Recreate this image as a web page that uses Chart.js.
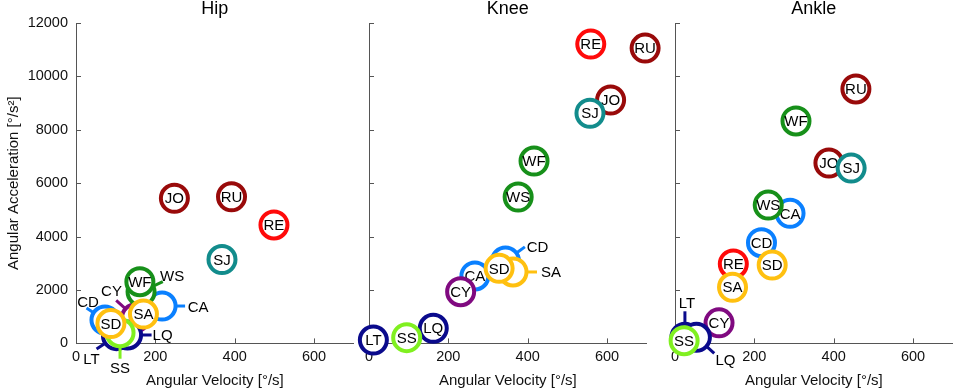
<!DOCTYPE html>
<html>
<head>
<meta charset="utf-8">
<script src="https://cdn.jsdelivr.net/npm/chart.js@4.4.0/dist/chart.umd.min.js"></script>
<style>
  html, body { margin: 0; padding: 0; background: #fff; }
  #wrap { position: relative; width: 957px; height: 391px; overflow: hidden; }
  #wrap canvas { position: absolute; top: 0; }
</style>
</head>
<body>
<div id="wrap">
  <canvas id="hip" width="360" height="391" style="left:0px"></canvas>
  <canvas id="knee" width="330" height="391" style="left:340px"></canvas>
  <canvas id="ankle" width="307" height="391" style="left:650px"></canvas>
</div>
<script>
// activities, in the order they are drawn (later ones sit on top)
const activities = ["CA", "CD", "CY", "LT", "LQ", "RE", "RU", "JO", "SJ", "WS", "WF", "SA", "SS", "SD"];

// peak angular velocity [deg/s] and acceleration [deg/s^2]
const hipVelocity     = [217, 73, 150, 102, 130, 499, 392, 248, 368, 164, 161, 170, 111, 88];
const hipAcceleration = [1400, 876, 960, 290, 315, 4435, 5490, 5435, 3140, 1930, 2310, 1100, 400, 745];

const kneeVelocity     = [267, 344, 231, 11, 162, 559, 696, 609, 557, 376, 416, 363, 95, 328];
const kneeAcceleration = [2525, 3086, 1935, 127, 565, 11210, 11060, 9115, 8620, 5480, 6830, 2675, 215, 2810];

const ankleVelocity     = [290, 218, 111, 25, 54, 147, 456, 388, 444, 235, 305, 145, 23, 245];
const ankleAcceleration = [4870, 3770, 770, 228, 228, 2975, 9530, 6755, 6565, 5180, 8330, 2100, 100, 2935];

const xTicks = [0, 200, 400, 600];
const yTicks = [0, 2000, 4000, 6000, 8000, 10000, 12000];

const colors = {
  CA: "#0a80ff", CD: "#0a80ff", CY: "#800a80", LT: "#0a0a8c", LQ: "#0a0a8c",
  RE: "#ff0a0a", RU: "#990a0a", JO: "#990a0a", SJ: "#128c8c", WS: "#17901a",
  WF: "#17901a", SA: "#ffc010", SD: "#ffc010", SS: "#80f020"
};

const axisColor = "#555";
const fontFamily = '"Liberation Sans", Arial, Helvetica, sans-serif';
Chart.defaults.font.family = fontFamily;
Chart.defaults.color = "#111";

// labels placed outside their circle with a short leader line
const hipCallouts = {
  WS: { angle: -25, r1: 24, dx: 31, dy: -16 },
  CA: { angle: 0, r1: 23, dx: 36, dy: 1 },
  CY: { angle: -138, r1: 26, dx: -24, dy: -27 },
  CD: { angle: -147, r1: 22, dx: -17, dy: -18 },
  SS: { angle: 90, r1: 26, dx: 0, dy: 35 },
  LT: { angle: 146, r1: 24, dx: -25, dy: 23 },
  LQ: { angle: 0, r1: 24, dx: 35, dy: 0 }
};
const kneeCallouts = {
  CD: { angle: -36, r1: 24, dx: 32, dy: -14 },
  SA: { angle: 0, r1: 24, dx: 38, dy: 0 }
};
const ankleCallouts = {
  LT: { angle: -90, r1: 26, dx: 2, dy: -34 },
  LQ: { angle: 42, r1: 24, dx: 29, dy: 23 }
};

// inward tick marks like the original figure
const inwardTicks = {
  id: "inwardTicks",
  beforeDatasetsDraw(chart) {
    const { ctx, chartArea: a, scales: { x, y } } = chart;
    ctx.save();
    ctx.strokeStyle = axisColor;
    ctx.lineWidth = 1;
    ctx.beginPath();
    xTicks.forEach((v) => {
      const px = Math.round(x.getPixelForValue(v)) + 0.5;
      ctx.moveTo(px, a.bottom);
      ctx.lineTo(px, a.bottom - 5);
    });
    yTicks.forEach((v) => {
      const py = Math.round(y.getPixelForValue(v)) + 0.5;
      ctx.moveTo(a.left, py);
      ctx.lineTo(a.left + 5, py);
    });
    ctx.stroke();
    ctx.restore();
  }
};

function circleLabels(callouts) {
  return {
    id: "circleLabels",
    afterDatasetDraw(chart, args) {
      const ds = chart.data.datasets[args.index];
      const pt = args.meta.data[0];
      const ctx = chart.ctx;
      const c = callouts[ds.label];
      ctx.save();
      ctx.font = "15px " + fontFamily;
      ctx.fillStyle = "#000";
      ctx.textAlign = "center";
      ctx.textBaseline = "middle";
      if (!c) {
        ctx.fillText(ds.label, pt.x, pt.y + 1);
      } else {
        const a = (c.angle * Math.PI) / 180;
        ctx.strokeStyle = ds.pointBorderColor;
        ctx.lineWidth = 3;
        ctx.beginPath();
        ctx.moveTo(pt.x + Math.cos(a) * 14, pt.y + Math.sin(a) * 14);
        ctx.lineTo(pt.x + Math.cos(a) * c.r1, pt.y + Math.sin(a) * c.r1);
        ctx.stroke();
        ctx.fillText(ds.label, pt.x + c.dx, pt.y + c.dy + 1);
      }
      ctx.restore();
    }
  };
}

function makePanel(id, title, vel, acc, callouts, geo) {
  const datasets = activities.map((name, i) => ({
    label: name,
    data: [{ x: vel[i], y: acc[i] }],
    order: activities.length - i, // first activity is drawn at the bottom
    pointRadius: 13.5,
    pointHoverRadius: 13.5,
    pointBorderWidth: 4,
    pointBorderColor: colors[name],
    pointBackgroundColor: "#fff",
    clip: false
  }));

  new Chart(document.getElementById(id), {
    type: "scatter",
    data: { datasets },
    options: {
      responsive: false,
      animation: false,
      events: [],
      layout: { autoPadding: false, padding: { left: 0, right: geo.padRight, top: 0, bottom: 0 } },
      plugins: {
        legend: { display: false },
        tooltip: { enabled: false },
        title: {
          display: true,
          text: title,
          fullSize: false,
          color: "#000",
          font: { size: 18, weight: "normal", lineHeight: 1 },
          padding: { top: 0, bottom: 5 }
        }
      },
      scales: {
        x: {
          type: "linear",
          min: 0,
          max: 700,
          afterBuildTicks: (s) => { s.ticks = xTicks.map((v) => ({ value: v })); },
          afterFit: (s) => { s.height = 47.6; s.paddingLeft = 0; s.paddingRight = 0; },
          grid: { display: false, drawTicks: false },
          border: { display: true, color: axisColor, width: 1 },
          ticks: { padding: 5, color: "#111", font: { size: 14.5 }, maxRotation: 0 },
          title: {
            display: true,
            text: "Angular Velocity [°/s]",
            color: "#111",
            font: { size: 15 },
            padding: { top: 0, bottom: 1 }
          }
        },
        y: {
          type: "linear",
          min: 0,
          max: 12000,
          afterBuildTicks: (s) => { s.ticks = yTicks.map((v) => ({ value: v })); },
          afterFit: (s) => { s.width = geo.yWidth; s.paddingTop = 0; s.paddingBottom = 0; },
          grid: { display: false, drawTicks: false },
          border: { display: true, color: axisColor, width: 1 },
          ticks: {
            display: geo.showY,
            padding: 8,
            color: "#111",
            font: { size: 14.5 },
            callback: (v) => String(v)
          },
          title: {
            display: geo.showY,
            text: "Angular Acceleration [°/s²]",
            color: "#111",
            font: { size: 15 },
            padding: { top: 5, bottom: 0 }
          }
        }
      }
    },
    plugins: [inwardTicks, circleLabels(callouts)]
  });
}

makePanel("hip", "Hip", hipVelocity, hipAcceleration, hipCallouts,
  { yWidth: 76, padRight: 6.3, showY: true });
makePanel("knee", "Knee", kneeVelocity, kneeAcceleration, kneeCallouts,
  { yWidth: 29, padRight: 23.3, showY: false });
makePanel("ankle", "Ankle", ankleVelocity, ankleAcceleration, ankleCallouts,
  { yWidth: 25, padRight: 4.3, showY: false });
</script>
</body>
</html>
